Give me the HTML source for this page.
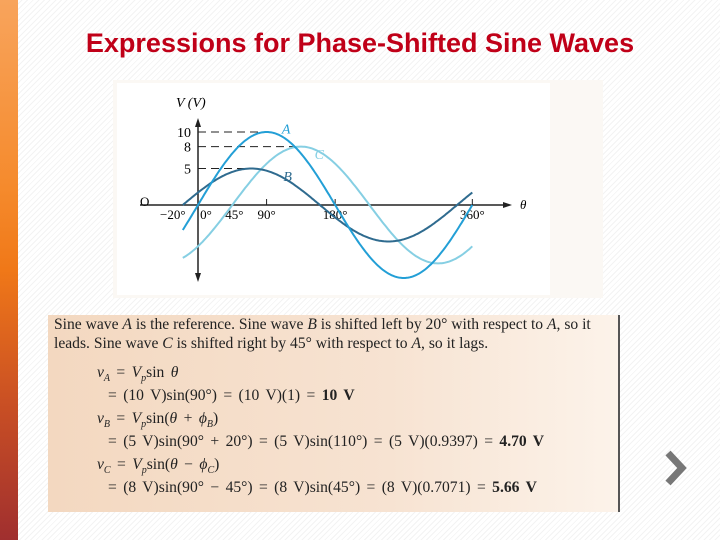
<!DOCTYPE html>
<html><head><meta charset="utf-8"><style>
body{margin:0;width:720px;height:540px;overflow:hidden;background:#fff;position:relative;font-family:"Liberation Sans",sans-serif}
.bg{position:absolute;inset:0;background:repeating-linear-gradient(135deg,#fff 0 3px,#f3f3f3 3px 4px)}
.bar{position:absolute;left:0;top:0;width:18px;height:540px;background:linear-gradient(#f8a45c,#f58a2c 35%,#f07818 50%,#c94f24 75%,#a02f2f)}
.title{position:absolute;left:0;width:720px;top:28px;text-align:center;font-weight:bold;font-size:27px;color:#c00018}
.panel{position:absolute;left:113px;top:80px;width:490px;height:218px;background:#fbf8f4}
.inner{position:absolute;left:117px;top:83px;width:433px;height:212px;background:#fff}
.tbox{position:absolute;left:48px;top:315px;width:570px;height:197px;background:linear-gradient(90deg,#f3d8c0,#f7e3d2 60%,#fcf3ea);border-right:2px solid #555;font-family:"Liberation Serif",serif;font-size:15.6px;color:#222}
.tbox p{margin:0;position:absolute;left:6px;white-space:nowrap}
.eq{position:absolute;white-space:nowrap;word-spacing:2.5px}
.chev{position:absolute;left:664px;top:450px}
</style></head><body>
<div class="bg"></div>
<div class="bar"></div>
<div class="title">Expressions for Phase-Shifted Sine Waves</div>
<div class="panel"></div>
<div class="inner"></div>
<svg id="chart" style="position:absolute;left:0;top:0" width="720" height="300" font-family="Liberation Serif, serif" font-size="13"></svg>
<div class="tbox">
<p style="top:1px">Sine wave <i>A</i> is the reference. Sine wave <i>B</i> is shifted left by 20° with respect to <i>A</i>, so it</p>
<p style="top:20px">leads. Sine wave <i>C</i> is shifted right by 45° with respect to <i>A</i>, so it lags.</p>
<div class="eq" style="left:49px;top:49px"><i>v<sub style="font-size:10px">A</sub></i> = <i>V<sub style="font-size:10px">p</sub></i>sin <i>θ</i></div>
<div class="eq" style="left:60px;top:72px">= (10 V)sin(90°) = (10 V)(1) = <b>10 V</b></div>
<div class="eq" style="left:49px;top:95px"><i>v<sub style="font-size:10px">B</sub></i> = <i>V<sub style="font-size:10px">p</sub></i>sin(<i>θ</i> + <i>ϕ<sub style="font-size:10px">B</sub></i>)</div>
<div class="eq" style="left:60px;top:118px">= (5 V)sin(90° + 20°) = (5 V)sin(110°) = (5 V)(0.9397) = <b>4.70 V</b></div>
<div class="eq" style="left:49px;top:141px"><i>v<sub style="font-size:10px">C</sub></i> = <i>V<sub style="font-size:10px">p</sub></i>sin(<i>θ</i> − <i>ϕ<sub style="font-size:10px">C</sub></i>)</div>
<div class="eq" style="left:60px;top:164px">= (8 V)sin(90° − 45°) = (8 V)sin(45°) = (8 V)(0.7071) = <b>5.66 V</b></div>
</div>
<svg class="chev" width="24" height="36"><polyline points="4,3 18,18 4,33" fill="none" stroke="#777" stroke-width="7"/></svg>
<script>
const seriesNames=["A","B","C"];
const amplitudes=[10,5,8];
const phases=[0,20,-45];
const colors=["#239fd6","#2f6b8f","#86cfe3"];
const yTicks=[10,8,5];
const xTickLabels=["−20°","0°","45°","90°","180°","360°"];
const xTickVals=[-20,0,45,90,180,360];
const ns="http://www.w3.org/2000/svg",svg=document.getElementById('chart');
const X=d=>198+d*0.762, Y=v=>205-v*7.3;
function el(t,a,txt){const e=document.createElementNS(ns,t);for(const k in a)e.setAttribute(k,a[k]);if(txt!=null)e.textContent=txt;svg.appendChild(e);return e;}
let e;
e=el('line',{x1:140,y1:Y(0),x2:505,y2:Y(0),stroke:"#222","stroke-width":1.5});

e=el('polygon',{points:`512,${Y(0)} 503,${Y(0)-3} 503,${Y(0)+3}`,fill:"#222"});

e=el('line',{x1:X(0),y1:125,x2:X(0),y2:277,stroke:"#222","stroke-width":1.5});

e=el('polygon',{points:`${X(0)},118 ${X(0)-3},127 ${X(0)+3},127 `,fill:"#222"});

e=el('polygon',{points:`${X(0)},282 ${X(0)-3},273 ${X(0)+3},273`,fill:"#222"});

e=el('text',{x:176,y:107,"font-style":"italic","font-size":14},"V (V)");

e=el('text',{x:520,y:209,"font-style":"italic"},"θ");

e=el('text',{x:140,y:206},"O");

yTicks.forEach((v,i)=>{
 e=el('text',{x:191,y:Y(v)+5,"text-anchor":"end","font-size":14},String(v));
 
 const ph=(90-phases[amplitudes.indexOf(v)])||90;
 e=el('line',{x1:X(0),y1:Y(v),x2:X(ph),y2:Y(v),stroke:"#222","stroke-dasharray":"8,5"});
 
});
xTickVals.forEach((d,i)=>{
 if(d>45){e=el('line',{x1:X(d),y1:Y(0)-6,x2:X(d),y2:Y(0),stroke:"#222"});
 }
 const off=d===-20?-10:d===0?8:d===45?2:0;
 e=el('text',{x:X(d)+off,y:Y(0)+14,"text-anchor":"middle"},xTickLabels[i]);
 
});
const order=[2,1,0];
order.forEach(i=>{
 let d="";for(let t=-20;t<=360;t+=2){const v=amplitudes[i]*Math.sin((t+phases[i])*Math.PI/180);d+=(t===-20?"M":"L")+X(t).toFixed(1)+","+Y(v).toFixed(1);}
 e=el('path',{d:d,fill:"none",stroke:colors[i],"stroke-width":2});
 
});
const lblPos=[[110,9.8],[112,3.3],[140,6.3]];
seriesNames.forEach((n,i)=>{
 e=el('text',{x:X(lblPos[i][0])+(i===2?10:0),y:Y(lblPos[i][1]),"font-style":"italic",fill:colors[i],"font-size":14},n);
 
});
</script>
</body></html>
